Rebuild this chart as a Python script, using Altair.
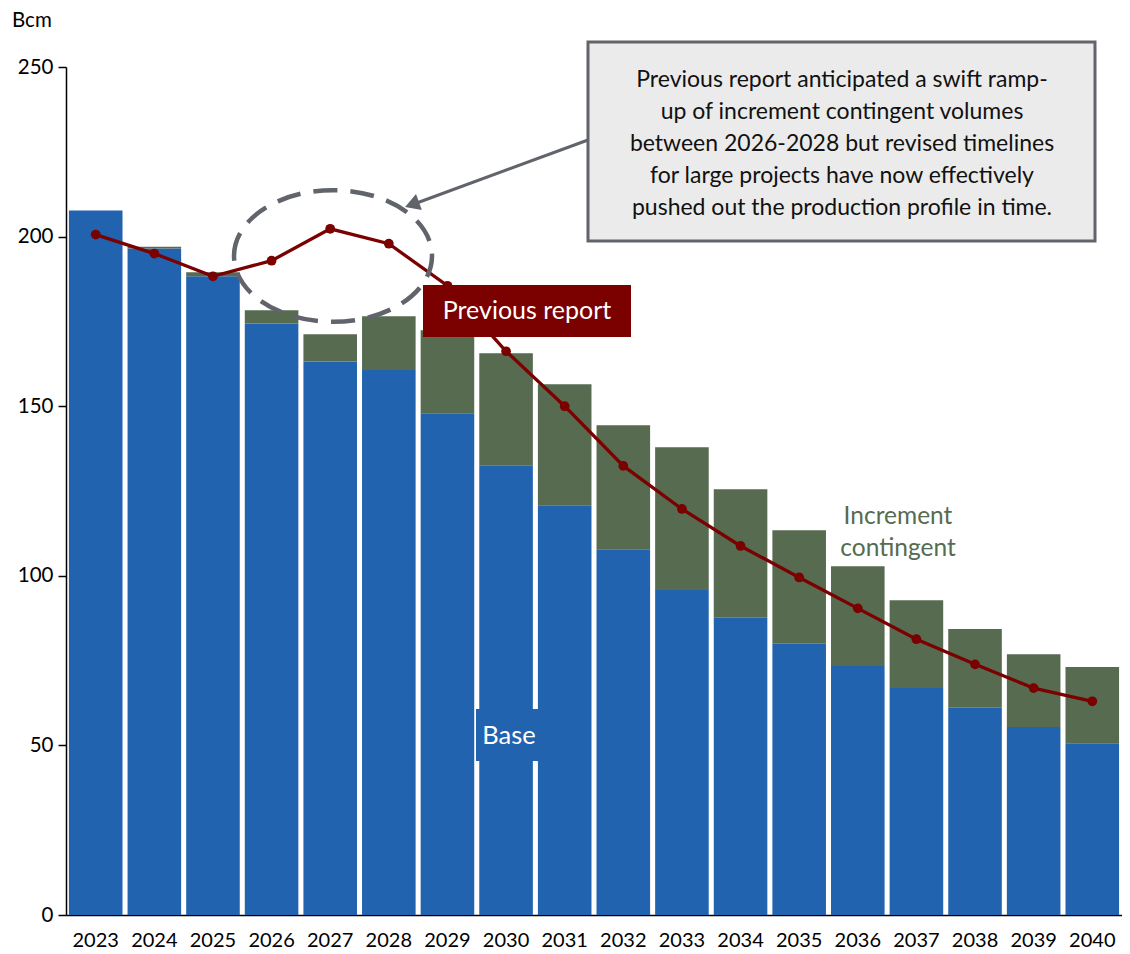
import altair as alt
import pandas as pd

years = [str(y) for y in range(2023, 2041)]
base = [207.7, 196.5, 188.3, 174.4, 163.2, 160.7, 147.9, 132.6, 120.8, 107.8,
        95.8, 87.6, 80.0, 73.4, 66.9, 61.1, 55.4, 50.6]
increment = [0.0, 0.5, 1.2, 3.9, 8.0, 15.8, 24.5, 33.0, 35.7, 36.6,
             42.1, 37.9, 33.4, 29.4, 25.9, 23.2, 21.5, 22.5]
previous = [200.6, 195.0, 188.3, 192.9, 202.3, 197.9, 185.5, 166.2, 150.0, 132.4,
            119.7, 108.8, 99.5, 90.4, 81.3, 73.9, 66.9, 63.0]
y_ticks = [0, 50, 100, 150, 200, 250]

callout_lines = [
    "Previous report anticipated a swift ramp-",
    "up of increment contingent volumes",
    "between  2026-2028 but revised timelines",
    "for large projects have now effectively",
    "pushed out the production profile in time.",
]

BLUE = "#2163AE"
GREEN = "#566B50"
RED = "#7B0000"
GREY = "#61656B"
FONT = "Lato"

df = pd.DataFrame({"year": years, "base": base, "increment": increment,
                   "previous": previous})

W, H = 1056, 848

x_enc = alt.X("year:O", sort=years,
              scale=alt.Scale(paddingInner=0.086, paddingOuter=0.05),
              axis=alt.Axis(title=None, labelAngle=0, ticks=False, labelPadding=15,
                            labelFontSize=20, labelColor="black", labelFont=FONT,
                            domainColor="black", domainWidth=1.5, grid=False))
y_scale = alt.Scale(domain=[0, 250], nice=False)
y_axis = alt.Axis(title=None, values=y_ticks, grid=False, tickSize=8, tickColor="black",
                  tickWidth=1.5, domainColor="black", domainWidth=1.5,
                  labelFontSize=20.5, labelColor="black", labelFont=FONT, labelPadding=5)

base_df = alt.Chart(df).transform_calculate(total="datum.base + datum.increment")

bars_base = base_df.mark_bar(color=BLUE).encode(
    x=x_enc,
    y=alt.Y("base:Q", scale=y_scale, axis=y_axis),
    y2=alt.Y2(datum=0),
)
bars_inc = base_df.mark_bar(color=GREEN).encode(
    x=x_enc,
    y=alt.Y("base:Q", scale=y_scale, axis=y_axis),
    y2="total:Q",
)
line = alt.Chart(df).mark_line(color=RED, strokeWidth=3.3).encode(
    x=x_enc, y=alt.Y("previous:Q", scale=y_scale, axis=y_axis))
pts = alt.Chart(df).mark_point(color=RED, filled=True, opacity=1, size=95).encode(
    x=x_enc, y=alt.Y("previous:Q", scale=y_scale, axis=y_axis))

one = pd.DataFrame({"k": [0]})
ann = alt.Chart(one)

# dashed ellipse
ellipse = ann.mark_point(
    shape="M -1 0 A 1 0.665 0 1 1 1 0 A 1 0.665 0 1 1 -1 0 Z",
    size=198 * 198, filled=False, stroke=GREY, strokeWidth=4.5,
    strokeDash=[24, 13], opacity=1,
).encode(x=alt.value(267), y=alt.value(189))

# arrow
arrow_line = ann.mark_rule(color=GREY, strokeWidth=3).encode(
    x=alt.value(522), y=alt.value(73), x2=alt.value(348), y2=alt.value(137))
arrow_head = ann.mark_point(shape="triangle-up", size=290, filled=True, color=GREY,
                            opacity=1, angle=250).encode(
    x=alt.value(346), y=alt.value(137.5))

# callout box
callout_box = ann.mark_rect(fill="#EBEBEB", stroke=GREY, strokeWidth=3).encode(
    x=alt.value(522), x2=alt.value(1029), y=alt.value(-25), y2=alt.value(174))
callout_text = ann.mark_text(
    text=callout_lines, font=FONT, fontSize=23, lineHeight=32, color="#111111",
    align="center", baseline="middle",
).encode(x=alt.value(776), y=alt.value(13))

# previous report label
prev_box = ann.mark_rect(fill=RED).encode(
    x=alt.value(357), x2=alt.value(565), y=alt.value(218), y2=alt.value(270))
prev_text = ann.mark_text(text="Previous report", font=FONT, fontSize=25,
                          color="white", align="center", baseline="middle").encode(
    x=alt.value(461), y=alt.value(244))

# increment contingent label
inc_text = ann.mark_text(text=["Increment", "contingent"], font=FONT, fontSize=24.5,
                         lineHeight=32, color=GREEN, align="center",
                         baseline="middle").encode(
    x=alt.value(832), y=alt.value(450))

# base label
base_box = ann.mark_rect(fill=BLUE).encode(
    x=alt.value(410), x2=alt.value(478), y=alt.value(642), y2=alt.value(694))
base_text = ann.mark_text(text="Base", font=FONT, fontSize=25.5, color="white",
                          align="center", baseline="middle").encode(
    x=alt.value(443), y=alt.value(669))

# unit title
unit = ann.mark_text(text="Bcm", font=FONT, fontSize=20.5, color="black",
                     align="left", baseline="middle").encode(
    x=alt.value(-54), y=alt.value(-46))

chart = alt.layer(
    bars_base, bars_inc, line, pts, ellipse, arrow_line, arrow_head,
    callout_box, callout_text, prev_box, prev_text, inc_text, base_box, base_text, unit,
).properties(
    width=W, height=H,
    autosize=alt.AutoSizeParams(type="none"),
    padding={"left": 58, "top": 59, "right": 0, "bottom": 38},
    view=alt.ViewBackground(stroke="transparent", strokeWidth=0),
).configure_axis(grid=False).configure(font=FONT)

chart.save("out.html", embed_options={"renderer": "svg", "actions": False})
